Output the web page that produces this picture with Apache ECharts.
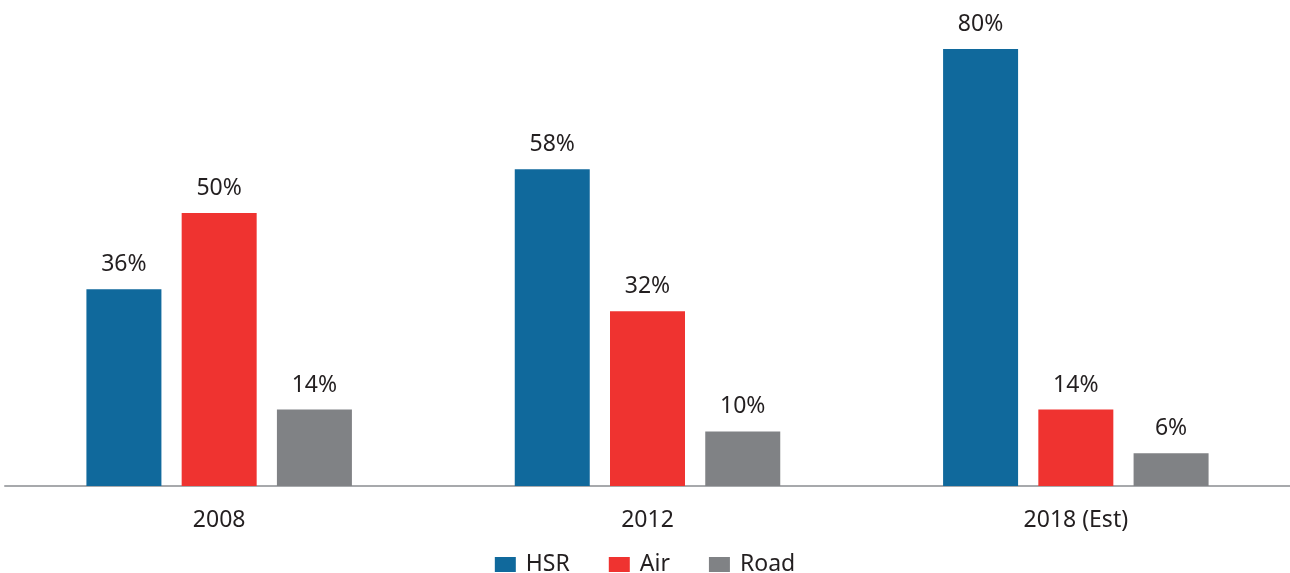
<!DOCTYPE html>
<html>
<head>
<meta charset="utf-8">
<script src="https://cdn.jsdelivr.net/npm/echarts@6/dist/echarts.min.js"></script>
<style>html,body{margin:0;padding:0;background:#fff;}#c{width:1290px;height:573px;}</style>
</head>
<body>
<div id="c"></div>
<script>
const categories = ['2008', '2012', '2018 (Est)'];
const hsr = [36, 58, 80];
const air = [50, 32, 14];
const road = [14, 10, 6];

const font = 'Noto Sans';
const textColor = '#231f20';
const label = { show: true, position: 'top', distance: 13, formatter: '{c}%', fontFamily: font, fontSize: 23, color: textColor };

const chart = echarts.init(document.getElementById('c'), null, { renderer: 'canvas' });
chart.setOption({
  animation: false,
  grid: { left: 5, right: 0, top: 49, bottom: 87, containLabel: false },
  legend: {
    bottom: -8, left: 'center', itemWidth: 21, itemHeight: 15, itemGap: 39,
    icon: 'rect',
    textStyle: { fontFamily: font, fontSize: 23, color: textColor, padding: [0, 0, 0, 5] },
    data: ['HSR', 'Air', 'Road']
  },
  xAxis: {
    type: 'category', data: categories,
    axisLine: { lineStyle: { color: '#a7a9ac', width: 2 } },
    axisTick: { show: false },
    axisLabel: { fontFamily: font, fontSize: 23, color: textColor, margin: 23 }
  },
  yAxis: { type: 'value', min: 0, max: 80, show: false, splitLine: { show: false } },
  series: [
    { name: 'HSR', type: 'bar', data: hsr, barWidth: 75, barGap: '27%', itemStyle: { color: '#10699c' }, label },
    { name: 'Air', type: 'bar', data: air, barWidth: 75, barGap: '27%', itemStyle: { color: '#ef3330' }, label },
    { name: 'Road', type: 'bar', data: road, barWidth: 75, barGap: '27%', itemStyle: { color: '#808285' }, label }
  ]
});
</script>
</body>
</html>
